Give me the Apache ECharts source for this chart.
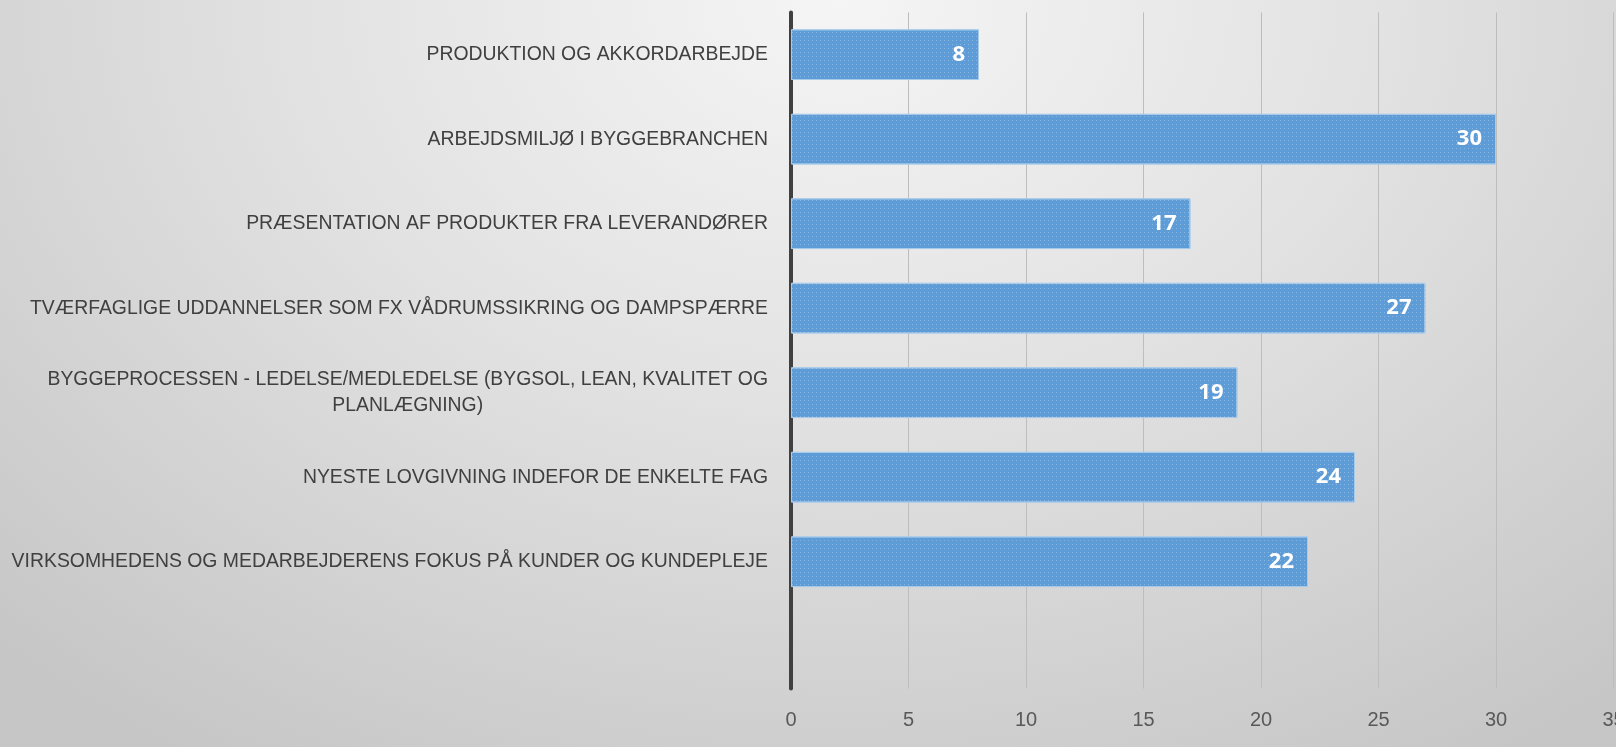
<!DOCTYPE html>
<html>
<head>
<meta charset="utf-8">
<script src="https://cdn.jsdelivr.net/npm/echarts@6/dist/echarts.min.js"></script>
<style>
html,body{margin:0;padding:0;}
#c{width:1616px;height:747px;background:radial-gradient(ellipse 75% 120% at 52% 0%, #f5f5f5 0%, #e2e2e2 45%, #c6c6c6 100%);}
</style>
</head>
<body>
<div id="c"></div>
<script>
const categories = [
  "PRODUKTION OG AKKORDARBEJDE",
  "ARBEJDSMILJØ I BYGGEBRANCHEN",
  "PRÆSENTATION AF PRODUKTER FRA LEVERANDØRER",
  "TVÆRFAGLIGE UDDANNELSER SOM FX VÅDRUMSSIKRING OG DAMPSPÆRRE",
  "BYGGEPROCESSEN - LEDELSE/MEDLEDELSE (BYGSOL, LEAN, KVALITET OG\nPLANLÆGNING)",
  "NYESTE LOVGIVNING INDEFOR DE ENKELTE FAG",
  "VIRKSOMHEDENS OG MEDARBEJDERENS FOKUS PÅ KUNDER OG KUNDEPLEJE",
  ""
];
const values = [8, 30, 17, 27, 19, 24, 22, null];
const xTicks = { min: 0, max: 35, interval: 5 };

const FONT = 'Liberation Sans, Arial, sans-serif';
const chart = echarts.init(document.getElementById('c'), null, {renderer: 'canvas'});
chart.setOption({
  backgroundColor: 'transparent',
  animation: false,
  grid: { left: 791, right: 2.5, top: 12.4, bottom: 58.5, containLabel: false, outerBoundsMode: 'none' },
  xAxis: {
    type: 'value', min: xTicks.min, max: xTicks.max, interval: xTicks.interval,
    axisLine: { show: false }, axisTick: { show: false },
    splitLine: { show: true, lineStyle: { color: '#bdbdbd', width: 1 } },
    axisLabel: { color: '#595959', fontSize: 20, fontFamily: FONT, margin: 22 }
  },
  yAxis: {
    type: 'category', data: categories, inverse: true,
    axisLine: { show: true, lineStyle: { color: '#404040', width: 4 } },
    axisTick: { show: false },
    axisLabel: {
      color: '#404040', fontSize: 19.4, fontFamily: FONT,
      margin: 23, lineHeight: 26,
      formatter: function (v) {
        if (v.indexOf('\n') < 0) return v;
        return v.split('\n').map(function (s) { return '{c|' + s + '}'; }).join('\n');
      },
      rich: { c: { align: 'center', color: '#404040', fontSize: 19.4, lineHeight: 26, fontFamily: FONT } }
    }
  },
  series: [{
    type: 'bar', data: values, barCategoryGap: '40%',
    itemStyle: {
      color: '#5d9cd6', borderColor: '#a9cbea', borderWidth: 1,
      decal: { symbol: 'rect', symbolSize: 1, dashArrayX: [1, 3], dashArrayY: [1, 3], color: 'rgba(255,255,255,0.28)', rotation: 0 }
    },
    label: {
      show: true, position: 'insideRight', distance: 14,
      color: '#ffffff', fontSize: 22, fontWeight: 'bold', fontFamily: 'Open Sans, sans-serif'
    }
  }]
});
</script>
</body>
</html>
